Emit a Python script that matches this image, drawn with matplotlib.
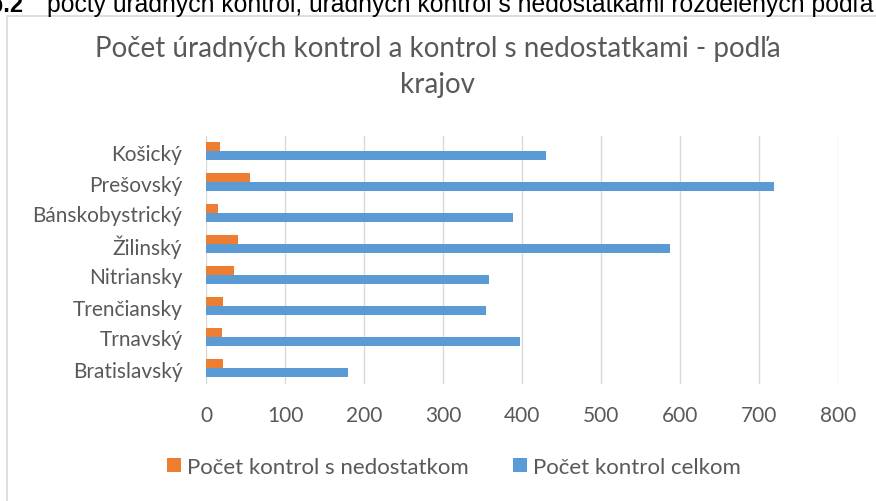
import numpy as np
import matplotlib
matplotlib.use("Agg")
import matplotlib.pyplot as plt
from matplotlib.patches import Rectangle

# data (bottom to top)
kraje = ["Bratislavský", "Trnavský", "Trenčiansky", "Nitriansky",
         "Žilinský", "Bánskobystrický", "Prešovský", "Košický"]
s_nedostatkom = [22, 20, 21, 36, 41, 15, 56, 18]
celkom = [180, 398, 354, 358, 587, 388, 719, 430]
x_ticks = [0, 100, 200, 300, 400, 500, 600, 700, 800]

orange = "#ED7D31"
blue = "#5B9BD5"
grey_txt = "#595959"

plt.rcParams["font.family"] = ["Lato", "DejaVu Sans"]

fig = plt.figure(figsize=(8.76, 5.02), dpi=100)

# chart frame (cut off on right/bottom like the screenshot)
fig.patches.append(Rectangle((7 / 876, -0.1), 1.2, (502 - 17) / 502 + 0.1,
                             transform=fig.transFigure, fill=False,
                             edgecolor="#d9d9d9", linewidth=1.2))

# caption above the chart, cut at the top edge as in the screenshot
fig.text(24 / 876, 1 - 5 / 502, "Tab.2", ha="right", va="center",
         fontsize=17, fontweight="bold", family="Liberation Sans")
fig.text(47 / 876, 1 - 5 / 502,
         "počty úradných kontrol, úradných kontrol s nedostatkami rozdelených podľa krajov",
         ha="left", va="center", fontsize=17.8, family="Liberation Sans")

ax = fig.add_axes([206 / 876, (502 - 385) / 502, (838 - 206) / 876, (385 - 137) / 502])

y = np.arange(len(kraje))
h = 0.30
ax.barh(y + h / 2 + 0.02, s_nedostatkom, height=h, color=orange,
        label="Počet kontrol s nedostatkom", zorder=3)
ax.barh(y - h / 2 + 0.02, celkom, height=h, color=blue,
        label="Počet kontrol celkom", zorder=3)

ax.set_xlim(0, 800)
ax.set_ylim(-0.5, len(kraje) - 0.5)
ax.set_xticks(x_ticks)
ax.set_yticks(y)
ax.set_yticklabels(kraje)
ax.tick_params(axis="both", length=0, labelsize=15, colors=grey_txt)
ax.tick_params(axis="x", pad=15)
ax.tick_params(axis="y", pad=17)
ax.grid(axis="x", color="#d9d9d9", linewidth=1, zorder=0)
for s in ax.spines.values():
    s.set_visible(False)

fig.text(0.5, 1 - 67 / 502,
         "Počet úradných kontrol a kontrol s nedostatkami - podľa\nkrajov",
         ha="center", va="center", fontsize=20, color=grey_txt, linespacing=1.5)

fig.legend(loc="center", bbox_to_anchor=(0.518, 1 - 468 / 502), ncol=2,
           frameon=False, fontsize=16, labelcolor=grey_txt,
           handlelength=0.63, handleheight=0.63, handletextpad=0.27,
           columnspacing=2.0)

fig.savefig("out.png", dpi=100)
